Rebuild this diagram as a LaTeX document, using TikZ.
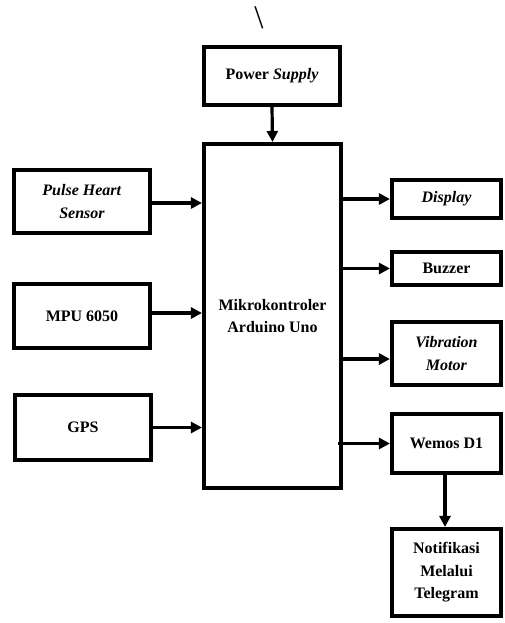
\documentclass[tikz,border=0pt]{standalone}
\usepackage{fontspec}
\setmainfont{Liberation Serif}
\usetikzlibrary{arrows.meta, shadows}

\begin{document}
\begin{tikzpicture}[
  x=1pt, y=-1pt,
  font=\fontsize{16}{22.5}\selectfont\bfseries,
  box/.style={rectangle, draw=black, fill=white, line width=3.6pt, align=center,
    inner sep=0pt, drop shadow={shadow xshift=1.5pt, shadow yshift=-1.5pt, fill=black!40, opacity=0.45}},
  arr/.style={-{Triangle[length=11pt, width=11pt]}, line width=3.2pt}
]
\useasboundingbox (0,0) rectangle (504,623);

\node[font=\fontsize{33}{33}\selectfont\mdseries] (mark) at (259,18) {\textbackslash};

\node[box, minimum width=136.5pt, minimum height=58.5pt] (power) at (272,76) {Power \textit{Supply}};
\node[box, minimum width=137.5pt, minimum height=344.5pt] (mcu) at (272.5,316) {Mikrokontroler\\Arduino Uno};

\node[box, minimum width=136.5pt, minimum height=63.5pt] (pulse) at (82,201.5) {\textit{Pulse Heart}\\\textit{Sensor}};
\node[box, minimum width=136.5pt, minimum height=64.5pt] (mpu) at (82,316) {MPU 6050};
\node[box, minimum width=136.5pt, minimum height=65.5pt] (gps) at (83,427.5) {GPS};

\node[box, minimum width=109.5pt, minimum height=38.5pt] (display) at (446.5,199) {\textit{Display}};
\node[box, minimum width=109.5pt, minimum height=33.5pt] (buzzer) at (446.5,268.5) {Buzzer};
\node[box, minimum width=109.5pt, minimum height=63.5pt] (vibra) at (446.5,353.5) {\textit{Vibration}\\\textit{Motor}};
\node[box, minimum width=109.5pt, minimum height=59.5pt] (wemos) at (446.5,443.5) {Wemos D1};
\node[box, minimum width=109.5pt, minimum height=87.5pt] (notif) at (446.5,572.5) {Notifikasi\\Melalui\\Telegram};

\draw[arr] (power.south) -- (mcu.north);

\draw[arr] ([yshift=-1.5pt]pulse.east) -- ([yshift=-1.5pt]pulse.east -| mcu.west);
\draw[arr] ([yshift=3pt]mpu.east) -- ([yshift=3pt]mpu.east -| mcu.west);
\draw[arr] (gps.east) -- (gps.east -| mcu.west);

\draw[arr] (mcu.east |- display.west) -- (display.west);
\draw[arr] (mcu.east |- buzzer.west) -- (buzzer.west);
\draw[arr] ([yshift=-5.5pt]mcu.east |- vibra.west) -- ([yshift=-5.5pt]vibra.west);
\draw[arr] ([xshift=-5pt]mcu.east |- wemos.west) -- (wemos.west);

\draw[arr] ([xshift=-1.5pt]wemos.south) -- ([xshift=-1.5pt]notif.north);

\end{tikzpicture}
\end{document}
